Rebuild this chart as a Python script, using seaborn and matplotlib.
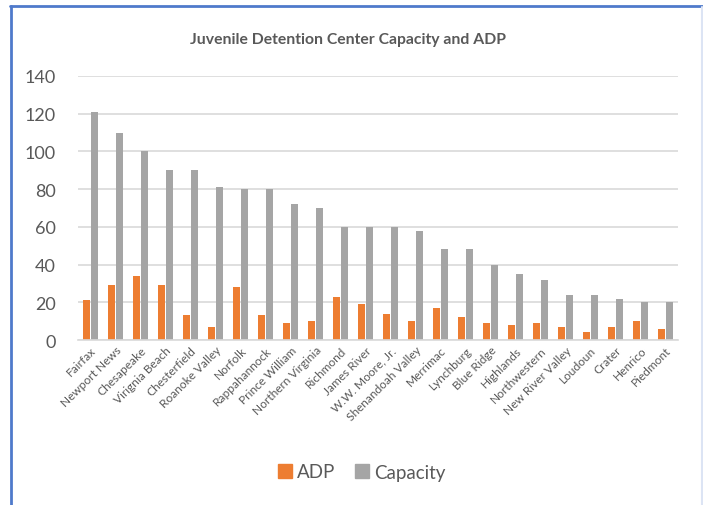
import pandas as pd
import seaborn as sns
import matplotlib.pyplot as plt
from matplotlib.lines import Line2D

centers = ['Fairfax', 'Newport News', 'Chesapeake', 'Virignia Beach', 'Chesterfield',
           'Roanoke Valley', 'Norfolk', 'Rappahannock', 'Prince William', 'Northern Virginia',
           'Richmond', 'James River', 'W.W. Moore, Jr.', 'Shenandoah Valley', 'Merrimac',
           'Lynchburg', 'Blue Ridge', 'Highlands', 'Northwestern', 'New River Valley',
           'Loudoun', 'Crater', 'Henrico', 'Piedmont']
adp = [21, 29, 34, 29, 13, 7, 28, 13, 9, 10, 23, 19, 14, 10, 17, 12, 9, 8, 9, 7, 4, 7, 10, 6]
capacity = [121, 110, 100, 90, 90, 81, 80, 80, 72, 70, 60, 60, 60, 58, 48, 48, 40, 35,
            32, 24, 24, 22, 20, 20]
yticks = [0, 20, 40, 60, 80, 100, 120, 140]

df = pd.DataFrame({'Center': centers * 2,
                   'Series': ['ADP'] * len(centers) + ['Capacity'] * len(centers),
                   'Value': adp + capacity})

sns.set_theme(style='white')
plt.rcParams['font.family'] = ['Lato', 'DejaVu Sans']
txt = '#595959'
pal = {'ADP': '#ED7D31', 'Capacity': '#A5A5A5'}

fig = plt.figure(figsize=(7.03, 5.06), dpi=100)
ax = fig.add_axes([78 / 703, 1 - 341 / 506, 600 / 703, 264 / 506])

sns.barplot(data=df, x='Center', y='Value', hue='Series', palette=pal, ax=ax,
            width=0.62, gap=0.08, saturation=1, legend=False, edgecolor='none')

ax.set_ylim(0, 140)
ax.set_xlim(-0.5, len(centers) - 0.5)
ax.set_yticks(yticks)
ax.yaxis.grid(True, color='#D9D9D9', linewidth=1.2)
ax.set_axisbelow(True)
for s in ['top', 'right', 'left']:
    ax.spines[s].set_visible(False)
ax.spines['bottom'].set_color('#D9D9D9')
ax.spines['bottom'].set_linewidth(1.2)
ax.set_xlabel('')
ax.set_ylabel('')
ax.tick_params(axis='y', length=0, labelsize=13, labelcolor=txt, pad=16)
ax.tick_params(axis='x', length=0, labelsize=8.6, labelcolor=txt, pad=3)
plt.setp(ax.get_xticklabels(), rotation=45, ha='right', rotation_mode='anchor')

fig.text(348 / 703, 1 - 40 / 506, 'Juvenile Detention Center Capacity and ADP',
         ha='center', va='center', fontsize=11.3, fontweight='bold', color=txt)

handles = [Line2D([], [], marker='s', linestyle='', markersize=10, color=pal[k]) for k in pal]
fig.legend(handles, list(pal), loc='center', bbox_to_anchor=(361 / 703, 1 - 473 / 506),
           ncol=2, frameon=False, fontsize=13.5, labelcolor=txt, handletextpad=0.2,
           columnspacing=1.0, handlelength=0.9)

# chart frame: left and top edges, faint right edge
fig.add_artist(Line2D([11 / 703, 11 / 703], [0, 1 - 7 / 506], transform=fig.transFigure,
                      color='#4F7ACB', linewidth=2))
fig.add_artist(Line2D([10 / 703, 1], [1 - 7 / 506, 1 - 7 / 506], transform=fig.transFigure,
                      color='#4F7ACB', linewidth=2))
fig.add_artist(Line2D([701.5 / 703, 701.5 / 703], [0, 1 - 8 / 506], transform=fig.transFigure,
                      color='#DCE4F4', linewidth=1.5))

fig.savefig('out.png', dpi=100)
